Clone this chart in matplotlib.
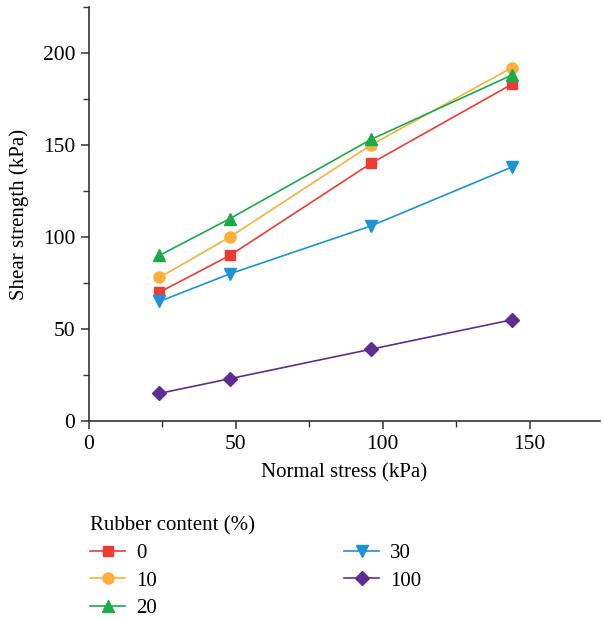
import matplotlib
matplotlib.use("Agg")
import matplotlib.pyplot as plt
from matplotlib.ticker import MultipleLocator

plt.rcParams['font.family'] = ['Liberation Serif', 'DejaVu Serif']

normal_stress = [24, 48, 96, 144]
labels = ["0", "10", "20", "30", "100"]
s0 = [70, 90, 140, 183]
s10 = [78, 100, 150, 192]
s20 = [90, 110, 153, 188]
s30 = [65, 80, 106, 138]
s100 = [15, 23, 39, 55]
series = [s0, s10, s20, s30, s100]
colors = ["#EE3B33", "#FBB03B", "#1AAA4A", "#1B93D6", "#5E2D91"]
markers = ["s", "o", "^", "v", "D"]
msizes = [7, 8, 8.5, 8.5, 7.5]

fig = plt.figure(figsize=(6.02, 6.2), dpi=100)
ax = fig.add_axes([89/602, 1-421/620, (600-89)/602, (421-7)/620])

for vals, c, m, ms, lab in zip(series, colors, markers, msizes, labels):
    ax.plot(normal_stress, vals, color=c, marker=m, markersize=ms, lw=1.2, label=lab)

ax.set_xlim(0, 174)
ax.set_ylim(0, 225)
ax.xaxis.set_major_locator(MultipleLocator(50))
ax.xaxis.set_minor_locator(MultipleLocator(25))
ax.yaxis.set_major_locator(MultipleLocator(50))
ax.yaxis.set_minor_locator(MultipleLocator(25))
for s in ["top", "right"]:
    ax.spines[s].set_visible(False)
for s in ["left", "bottom"]:
    ax.spines[s].set_color("#333333")
    ax.spines[s].set_linewidth(1.2)
ax.tick_params(which="major", direction="out", length=6, width=1.1, labelsize=15.5, colors="#333333", labelcolor="black", pad=4)
ax.tick_params(which="minor", direction="out", length=4, width=1.0, colors="#333333")
ax.set_xlabel("Normal stress (kPa)", fontsize=15, labelpad=7)
ax.set_ylabel("Shear strength (kPa)", fontsize=15, labelpad=10)

handles, labs = ax.get_legend_handles_labels()
leg = fig.legend(handles, labs, loc="upper left", bbox_to_anchor=(82/602, 1-508/620),
                 ncol=2, frameon=False, fontsize=15, title="Rubber content (%)",
                 title_fontsize=15, alignment="left", handlelength=1.65,
                 handletextpad=0.55, columnspacing=9.0, labelspacing=0.38, borderaxespad=0)

fig.savefig("out.png", dpi=100)
